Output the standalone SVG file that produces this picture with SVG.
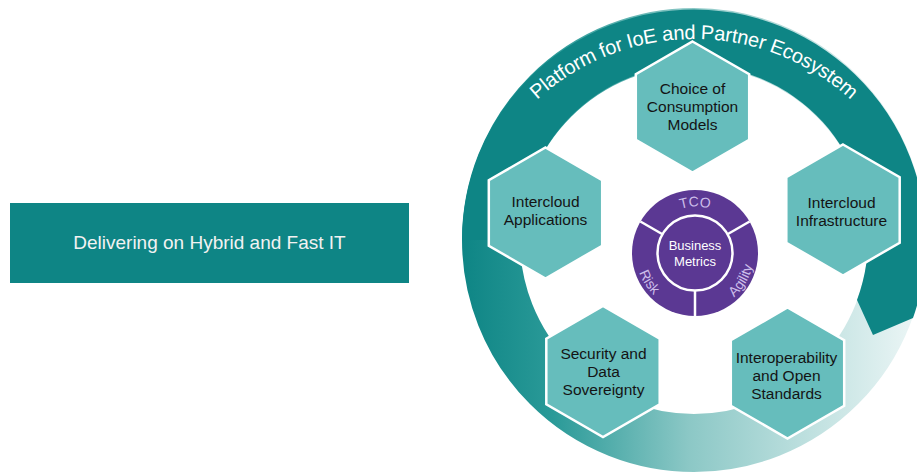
<svg xmlns="http://www.w3.org/2000/svg" xmlns:xlink="http://www.w3.org/1999/xlink" width="917" height="474" viewBox="0 0 917 474">
  <style>
    .lbl { font-family: "Liberation Sans", Arial, sans-serif; }
    .hex { fill: #66BDBC; stroke: #FFFFFF; stroke-width: 2.5; }
    .hext { font-family: "Liberation Sans", Arial, sans-serif; font-size: 15.5px; fill: #141414; text-anchor: middle; }
    .div { stroke: #FFFFFF; stroke-width: 2.5; }
    .seg { font-family: "Liberation Sans", Arial, sans-serif; font-size: 14px; fill: #CDBEEA; text-anchor: middle; }
  </style>
  <defs>
    <linearGradient id="ringGrad" gradientUnits="userSpaceOnUse" x1="462" y1="0" x2="917" y2="0">
      <stop offset="0" stop-color="#0E8585"/>
      <stop offset="0.2" stop-color="#2A9A98"/>
      <stop offset="0.5" stop-color="#8CC8C6"/>
      <stop offset="1" stop-color="#ECF6F6"/>
    </linearGradient>
    <polygon id="hexShape" points="0,-65.5 56.7,-32.75 56.7,32.75 0,65.5 -56.7,32.75 -56.7,-32.75"/>
    <path id="ringTextPath" d="M 461 272 A 233 233 0 0 1 927 272"/>
    <path id="tcoPath" d="M 648.5 253 A 46.5 46.5 0 0 1 741.5 253"/>
    <path id="lowPath" d="M 636 253 A 59 59 0 0 0 754 253"/>
  </defs>

  <g id="hybrid-box">
    <rect x="10" y="203" width="399" height="80" fill="#0E8585"/>
    <text class="lbl" x="209.5" y="249" font-size="19" fill="#F2F2F2" text-anchor="middle">Delivering on Hybrid and Fast IT</text>
  </g>

  <g id="ring">
    <circle cx="694" cy="240" r="203" fill="none" stroke="url(#ringGrad)" stroke-width="58"/>
    <path d="M 462 240 A 232 232 0 1 1 913 318 L 873 335 L 857 300 A 174 174 0 1 0 520 240 Z" fill="#0E8585"/>
    <text class="lbl" font-size="20" fill="#FFFFFF"><textPath href="#ringTextPath" xlink:href="#ringTextPath" startOffset="50%" text-anchor="middle" textLength="344" lengthAdjust="spacing">Platform for IoE and Partner Ecosystem</textPath></text>
  </g>

  <g id="connectors"></g>

  <g id="hex-choice">
    <use href="#hexShape" xlink:href="#hexShape" class="hex" x="692.5" y="107"/>
    <text class="hext" x="692.5" y="93.5">Choice of</text>
    <text class="hext" x="692.5" y="111.5">Consumption</text>
    <text class="hext" x="692.5" y="129.5">Models</text>
  </g>

  <g id="hex-applications">
    <use href="#hexShape" xlink:href="#hexShape" class="hex" x="545.5" y="213"/>
    <text class="hext" x="545.5" y="207">Intercloud</text>
    <text class="hext" x="545.5" y="224.5">Applications</text>
  </g>

  <g id="hex-infrastructure">
    <use href="#hexShape" xlink:href="#hexShape" class="hex" x="843" y="210"/>
    <text class="hext" x="841.5" y="208">Intercloud</text>
    <text class="hext" x="841.5" y="225.5">Infrastructure</text>
  </g>

  <g id="hex-security">
    <use href="#hexShape" xlink:href="#hexShape" class="hex" x="603" y="371.5"/>
    <text class="hext" x="603.5" y="358.5">Security and</text>
    <text class="hext" x="603.5" y="376.5">Data</text>
    <text class="hext" x="603.5" y="394.5">Sovereignty</text>
  </g>

  <g id="hex-interoperability">
    <use href="#hexShape" xlink:href="#hexShape" class="hex" x="787.5" y="373"/>
    <text class="hext" x="786.5" y="363">Interoperability</text>
    <text class="hext" x="786.5" y="381">and Open</text>
    <text class="hext" x="786.5" y="398.5">Standards</text>
  </g>

  <g id="business-metrics">
    <circle cx="695" cy="253" r="63" fill="#5B3893"/>
    <line class="div" x1="662.5" y1="234.25" x2="640.4" y2="221.5"/>
    <line class="div" x1="727.5" y1="234.25" x2="749.6" y2="221.5"/>
    <line class="div" x1="695" y1="290.5" x2="695" y2="317"/>
    <circle cx="695" cy="253" r="37.5" fill="#5B3893" stroke="#FFFFFF" stroke-width="2.5"/>
    <text class="lbl" x="695" y="250" font-size="13" fill="#FFFFFF" text-anchor="middle">Business</text>
    <text class="lbl" x="695" y="266" font-size="13" fill="#FFFFFF" text-anchor="middle">Metrics</text>
    <text class="seg"><textPath href="#tcoPath" xlink:href="#tcoPath" startOffset="50%">TCO</textPath></text>
    <text class="seg"><textPath href="#lowPath" xlink:href="#lowPath" startOffset="18%">Risk</textPath></text>
    <text class="seg"><textPath href="#lowPath" xlink:href="#lowPath" startOffset="83%">Agility</textPath></text>
  </g>
</svg>
